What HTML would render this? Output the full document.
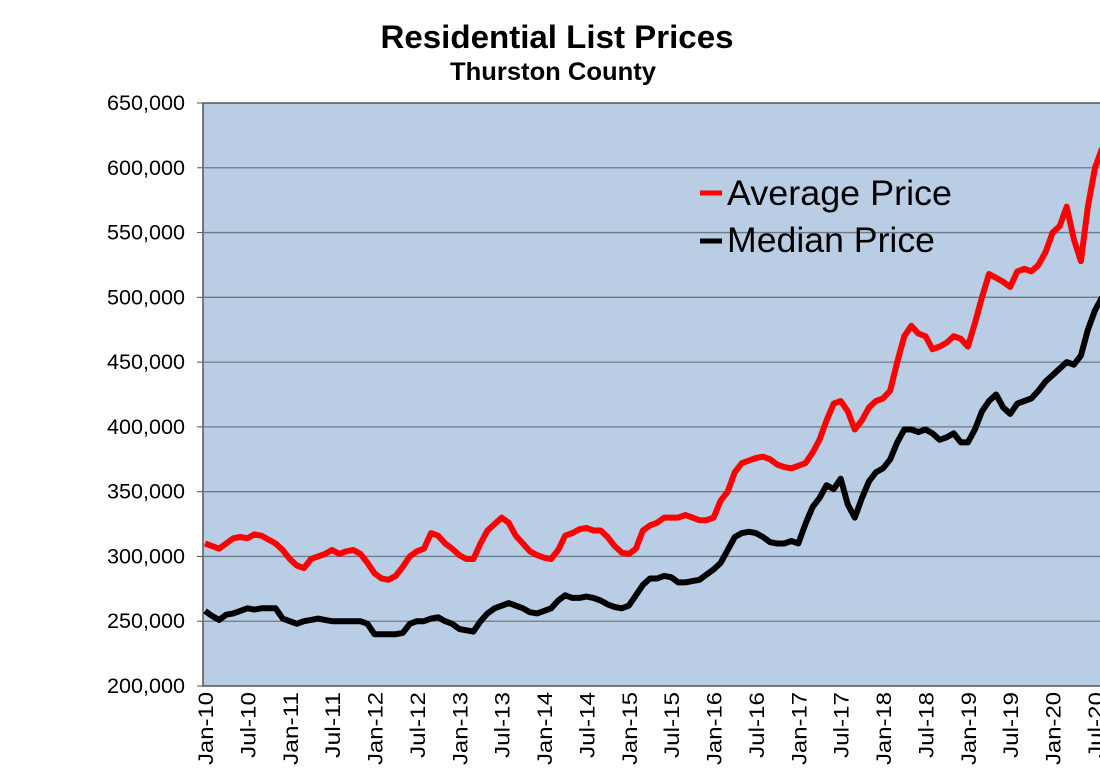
<!DOCTYPE html>
<html><head><meta charset="utf-8"><style>
body{margin:0;background:#fff;width:1100px;height:773px;overflow:hidden}
text{font-family:"Liberation Sans",Arial,sans-serif}
</style></head><body>
<svg id="chart" width="1100" height="773" xmlns="http://www.w3.org/2000/svg">
<text x="557" y="48" text-anchor="middle" font-size="32" font-weight="bold" textLength="353" lengthAdjust="spacingAndGlyphs">Residential List Prices</text>
<text x="553" y="80" text-anchor="middle" font-size="25" font-weight="bold" textLength="206" lengthAdjust="spacingAndGlyphs">Thurston County</text>
<rect x="203" y="103" width="900" height="583" fill="#b9cde5" stroke="#555" stroke-width="1.5"/>
<g id="grid"></g><g id="yt"></g><g id="xt"></g><g id="lines"></g>
<g>
<line x1="700" y1="193" x2="722" y2="193" stroke="#f00" stroke-width="5"/>
<text x="727" y="205" font-size="35" textLength="225" lengthAdjust="spacingAndGlyphs">Average Price</text>
<line x1="700" y1="241" x2="722" y2="241" stroke="#000" stroke-width="5"/>
<text x="727" y="252" font-size="35" textLength="208" lengthAdjust="spacingAndGlyphs">Median Price</text>
</g>
</svg>
<script>
const yTicks=[200000,250000,300000,350000,400000,450000,500000,550000,600000,650000];
const xLabels=["Jan-10","Jul-10","Jan-11","Jul-11","Jan-12","Jul-12","Jan-13","Jul-13","Jan-14","Jul-14","Jan-15","Jul-15","Jan-16","Jul-16","Jan-17","Jul-17","Jan-18","Jul-18","Jan-19","Jul-19","Jan-20","Jul-20"];
const avgPrice=[310,308,306,310,314,315,314,317,316,313,310,305,
298,293,291,298,300,302,305,302,304,305,302,295,
287,283,282,285,292,300,304,306,318,316,310,306,
301,298,298,310,320,325,330,326,316,310,304,301,
299,298,305,316,318,321,322,320,320,315,308,303,
302,306,320,324,326,330,330,330,332,330,328,328,
330,343,350,365,372,374,376,377,375,371,369,368,
370,372,380,390,405,418,420,412,398,405,415,420,
422,428,450,470,478,472,470,460,462,465,470,468,
462,480,500,518,515,512,508,520,522,520,525,535,
550,555,570,545,528,570,600,615];
const medPrice=[258,254,251,255,256,258,260,259,260,260,260,252,
250,248,250,251,252,251,250,250,250,250,250,248,
240,240,240,240,241,248,250,250,252,253,250,248,
244,243,242,250,256,260,262,264,262,260,257,256,
258,260,266,270,268,268,269,268,266,263,261,260,
262,270,278,283,283,285,284,280,280,281,282,286,
290,295,305,315,318,319,318,315,311,310,310,312,
310,325,338,345,355,352,360,340,330,345,358,365,
368,375,388,398,398,396,398,395,390,392,395,388,
388,398,412,420,425,415,410,418,420,422,428,435,
440,445,450,448,455,475,490,500];
const NS="http://www.w3.org/2000/svg";
const X=m=>205+m*(890/126);
const Y=v=>686-(v-200000)/450000*583;
function mk(t,a,p){const e=document.createElementNS(NS,t);for(const k in a)e.setAttribute(k,a[k]);p.appendChild(e);return e;}
const grid=document.getElementById('grid'),yt=document.getElementById('yt'),xt=document.getElementById('xt'),ln=document.getElementById('lines');
yTicks.forEach(v=>{
 if(v>200000&&v<650000){const g=mk('line',{x1:203,x2:1100,y1:Y(v),y2:Y(v),stroke:'#6e7a88','stroke-width':1.3},grid);
 
 }
 const t=mk('text',{x:185,y:Y(v)+7,'text-anchor':'end','font-size':21,textLength:78,lengthAdjust:'spacingAndGlyphs'},yt);
 t.textContent=v.toLocaleString('en-US');
 
 
 const tk=mk('line',{x1:197,x2:203,y1:Y(v),y2:Y(v),stroke:'#555'},yt);
 
 
});
xLabels.forEach((s,i)=>{
 const x=X(i*6);
 const len=s.startsWith('Jul')?66:73;
 const t=mk('text',{transform:`translate(${x+8},692) rotate(-90)`,'text-anchor':'end','font-size':21,textLength:len,lengthAdjust:'spacingAndGlyphs'},xt);
 t.textContent=s;
 
 
});
function line(arr,col,name){
 const d=arr.map((v,i)=>(i?'L':'M')+X(i).toFixed(1)+','+Y(v*1000).toFixed(1)).join('');
 const p=mk('path',{d:d,fill:'none',stroke:col,'stroke-width':6,'stroke-linejoin':'round'},ln);
 
 
}
line(medPrice,'#000','median-price-line');
line(avgPrice,'#f00','average-price-line');
</script>
</body></html>
